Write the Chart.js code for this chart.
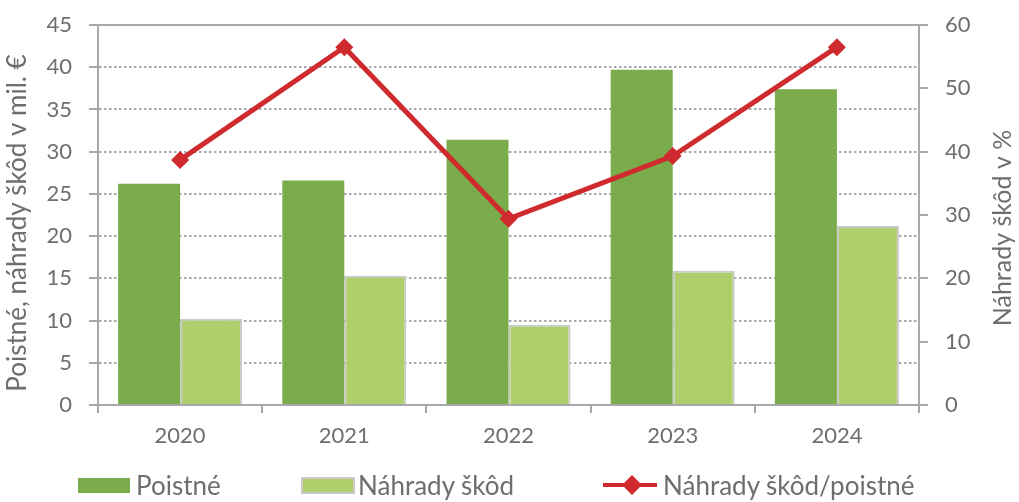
<!DOCTYPE html>
<html>
<head>
<meta charset="utf-8">
<script src="https://cdn.jsdelivr.net/npm/chart.js@4"></script>
<style>
  html, body { margin: 0; padding: 0; background: #fff; }
  #wrap { position: relative; width: 1019px; height: 502px; font-family: Lato, sans-serif; color: #6d6e71; }
  #c { position: absolute; left: 0; top: 0; }
  .lg { position: absolute; top: 470px; height: 30px; display: flex; align-items: center; font-size: 26px; white-space: nowrap; }
  .sw { box-sizing: border-box; }
</style>
</head>
<body>
<div id="wrap">
  <canvas id="c" width="1019" height="502"></canvas>
  <div class="lg" style="left:78px"><div class="sw" style="width:52px;height:15px;background:#7aac4b;margin-right:6px"></div><span id="l0"></span></div>
  <div class="lg" style="left:301px"><div class="sw" style="width:54px;height:17px;background:#afcf6c;border:2px solid #c9c9c9;margin-right:3px"></div><span id="l1"></span></div>
  <div class="lg" style="left:603px"><svg width="54" height="20" style="margin-right:6px"><line x1="0" y1="10" x2="54" y2="10" stroke="#cf2a2e" stroke-width="4"/><rect x="22" y="3" width="14" height="14" fill="#cf2a2e" transform="rotate(45 29 10)"/></svg><span id="l2"></span></div>
</div>
<script>
const years = ['2020', '2021', '2022', '2023', '2024'];
const premiums = [26.2, 26.6, 31.4, 39.7, 37.4];   // Poistné, mil. €
const claims = [10.2, 15.3, 9.5, 15.9, 21.2];      // Náhrady škôd, mil. €
const ratio = [38.7, 56.5, 29.4, 39.3, 56.5];      // Náhrady škôd/poistné, %
const names = ['Poistné', 'Náhrady škôd', 'Náhrady škôd/poistné'];
const leftTitle = 'Poistné, náhrady škôd v mil. €';
const rightTitle = 'Náhrady škôd v %';

const GRAY = '#a7a9ac', TXT = '#6d6e71', FONT = 'Lato, sans-serif';
names.forEach((n, i) => { document.getElementById('l' + i).textContent = n; });

// axis titles are drawn bottom-to-top on both sides
const titles = {
  id: 'titles',
  afterDraw(chart) {
    const ctx = chart.ctx;
    const put = (txt, x, y, size) => {
      ctx.save();
      ctx.fillStyle = TXT;
      ctx.font = size + 'px ' + FONT;
      ctx.textAlign = 'center'; ctx.textBaseline = 'middle';
      ctx.translate(x, y); ctx.rotate(-Math.PI / 2);
      ctx.fillText(txt, 0, 0);
      ctx.restore();
    };
    put(leftTitle, 18, 223, 26);
    put(rightTitle, 1003, 228, 25);
  }
};

// fixed widths so the plot sits at x 98..919, y 25..405
const fixY = w => s => { s.width = w; s.paddingTop = 0; s.paddingBottom = 0; };

new Chart(document.getElementById('c'), {
  data: {
    labels: years,
    datasets: [
      { type: 'line', label: names[2], data: ratio, yAxisID: 'y1', order: 0,
        borderColor: '#cf2a2e', backgroundColor: '#cf2a2e', borderWidth: 5,
        pointStyle: 'rectRot', pointRadius: 9, pointBorderWidth: 0, tension: 0 },
      { type: 'bar', label: names[0], data: premiums, yAxisID: 'y', order: 1,
        backgroundColor: '#7aac4b', borderWidth: 0,
        barPercentage: 1, categoryPercentage: 0.755 },
      { type: 'bar', label: names[1], data: claims, yAxisID: 'y', order: 2,
        backgroundColor: '#afcf6c', borderColor: '#c9c9c9', borderWidth: 2,
        barPercentage: 1, categoryPercentage: 0.755 },
    ]
  },
  options: {
    responsive: false, animation: false,
    layout: { padding: { top: 25, bottom: 42, left: 0, right: 0 } },
    plugins: { legend: { display: false }, tooltip: { enabled: false } },
    scales: {
      x: {
        afterFit: s => { s.height = 55; s.paddingLeft = 0; s.paddingRight = 0; },
        grid: { drawOnChartArea: false, color: GRAY, lineWidth: 2, tickLength: 8 },
        border: { color: GRAY, width: 2 },
        ticks: { color: TXT, font: { family: FONT, size: 22 }, padding: 10 }
      },
      y: {
        position: 'left', min: 0, max: 45,
        afterFit: fixY(98),
        grid: { color: GRAY, lineWidth: 2, tickLength: 9, tickBorderDash: [] },
        border: { color: GRAY, width: 2, dash: c => (c.tick && c.tick.value === 45) ? [] : [2.5, 2.5] },
        ticks: { stepSize: 5, color: TXT, font: { family: FONT, size: 22 }, padding: 17 }
      },
      y1: {
        position: 'right', min: 0, max: 60,
        afterFit: fixY(100),
        grid: { drawOnChartArea: false, color: GRAY, lineWidth: 2, tickLength: 9 },
        border: { color: GRAY, width: 2 },
        ticks: { stepSize: 10, color: TXT, font: { family: FONT, size: 22 }, padding: 17 }
      }
    }
  },
  plugins: [titles]
});
</script>
</body>
</html>
